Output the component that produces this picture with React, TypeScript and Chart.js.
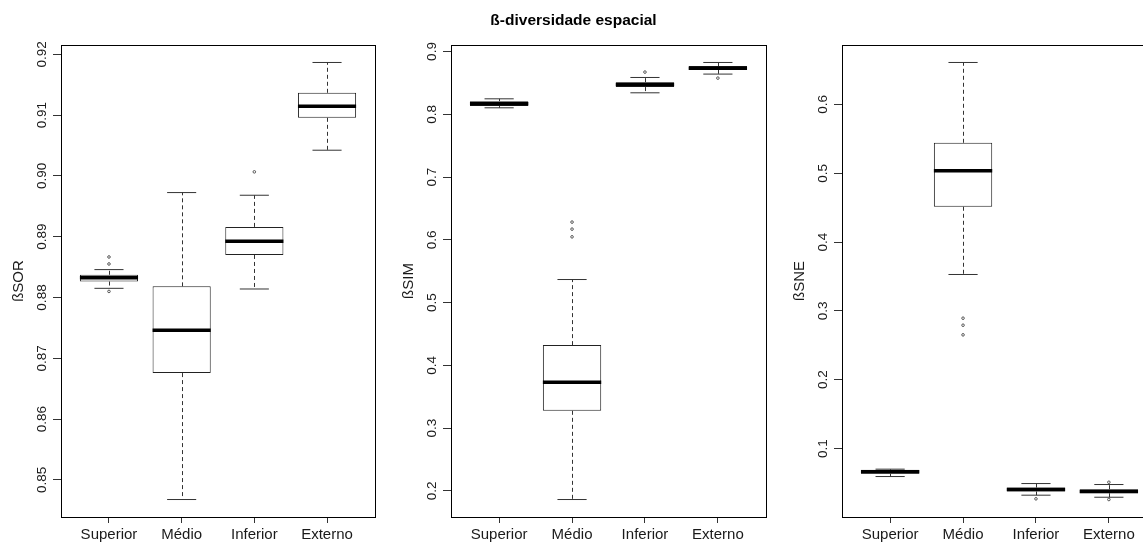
import React, { useEffect, useRef } from 'react';
import { Chart, registerables } from 'chart.js';

Chart.register(...registerables);

const categories = ['Superior', 'Médio', 'Inferior', 'Externo'];
const mainTitle = 'ß-diversidade espacial';

// βSOR
const sorQ1 = [0.88263, 0.86756, 0.887, 0.90957];
const sorMedian = [0.88326, 0.87459, 0.88925, 0.91149];
const sorQ3 = [0.88374, 0.88184, 0.89162, 0.91369];
const sorLow = [0.88151, 0.84675, 0.8814, 0.90424];
const sorHigh = [0.88459, 0.89727, 0.89683, 0.91868];
const sorOutGroup = [1, 1, 1, 3];
const sorOutValue = [0.88667, 0.88552, 0.881, 0.90068];

// βSIM
const simQ1 = [0.813, 0.3275, 0.8433, 0.8708];
const simMedian = [0.8167, 0.3732, 0.8474, 0.8735];
const simQ3 = [0.8209, 0.4322, 0.8512, 0.8767];
const simLow = [0.8103, 0.1862, 0.8342, 0.864];
const simHigh = [0.8246, 0.5367, 0.8586, 0.8825];
const simOutGroup = [2, 2, 2, 3, 4];
const simOutValue = [0.6282, 0.617, 0.6047, 0.8672, 0.8576];

// βSNE
const sneQ1 = [0.0632, 0.4513, 0.0375, 0.035];
const sneMedian = [0.0661, 0.5036, 0.0404, 0.0375];
const sneQ3 = [0.069, 0.5443, 0.0433, 0.0409];
const sneLow = [0.0593, 0.3529, 0.0322, 0.0292];
const sneHigh = [0.07, 0.661, 0.0491, 0.0477];
const sneOutGroup = [2, 2, 2, 3, 4, 4];
const sneOutValue = [0.2894, 0.2792, 0.2652, 0.0269, 0.051, 0.0259];

const FONT = '"Liberation Sans", Arial, Helvetica, sans-serif';

type Panel = {
  yTitle: string;
  q1: number[];
  median: number[];
  q3: number[];
  low: number[];
  high: number[];
  outGroup: number[];
  outValue: number[];
  step: number;
  decimals: number;
  left: number;
  width: number;
  axisWidth: number;
  padRight: number;
  title?: string;
};

const panels: Panel[] = [
  {
    yTitle: 'ßSOR', q1: sorQ1, median: sorMedian, q3: sorQ3, low: sorLow, high: sorHigh,
    outGroup: sorOutGroup, outValue: sorOutValue, step: 0.01, decimals: 2,
    left: 0, width: 381, axisWidth: 61, padRight: 6,
  },
  {
    yTitle: 'ßSIM', q1: simQ1, median: simMedian, q3: simQ3, low: simLow, high: simHigh,
    outGroup: simOutGroup, outValue: simOutValue, step: 0.1, decimals: 1,
    left: 381, width: 452, axisWidth: 70, padRight: 67, title: mainTitle,
  },
  {
    yTitle: 'ßSNE', q1: sneQ1, median: sneMedian, q3: sneQ3, low: sneLow, high: sneHigh,
    outGroup: sneOutGroup, outValue: sneOutValue, step: 0.1, decimals: 1,
    left: 780, width: 393, axisWidth: 62, padRight: 16,
  },
];

function makePlugin(p: Panel) {
  return {
    id: 'boxParts',
    beforeDatasetsDraw(chart: any) {
      const { ctx } = chart;
      const x = chart.scales.x;
      const y = chart.scales.y;
      ctx.save();
      ctx.strokeStyle = '#333';
      ctx.lineWidth = 1;
      categories.forEach((_c, i) => {
        const cx = Math.round(x.getPixelForValue(i + 1)) + 0.5;
        ctx.setLineDash([4, 3]);
        ctx.beginPath();
        ctx.moveTo(cx, y.getPixelForValue(p.q3[i]));
        ctx.lineTo(cx, y.getPixelForValue(p.high[i]));
        ctx.moveTo(cx, y.getPixelForValue(p.q1[i]));
        ctx.lineTo(cx, y.getPixelForValue(p.low[i]));
        ctx.stroke();
        ctx.setLineDash([]);
        const sl = x.getPixelForValue(i + 1 - 0.2);
        const sr = x.getPixelForValue(i + 1 + 0.2);
        ctx.beginPath();
        ctx.moveTo(sl, y.getPixelForValue(p.high[i]));
        ctx.lineTo(sr, y.getPixelForValue(p.high[i]));
        ctx.moveTo(sl, y.getPixelForValue(p.low[i]));
        ctx.lineTo(sr, y.getPixelForValue(p.low[i]));
        ctx.stroke();
      });
      ctx.restore();
    },
    afterDatasetsDraw(chart: any) {
      const { ctx } = chart;
      const x = chart.scales.x;
      const y = chart.scales.y;
      ctx.save();
      ctx.strokeStyle = '#000';
      ctx.lineWidth = 3.5;
      ctx.lineCap = 'butt';
      categories.forEach((_c, i) => {
        const my = y.getPixelForValue(p.median[i]);
        ctx.beginPath();
        ctx.moveTo(x.getPixelForValue(i + 1 - 0.4), my);
        ctx.lineTo(x.getPixelForValue(i + 1 + 0.4), my);
        ctx.stroke();
      });
      ctx.restore();
    },
    afterDraw(chart: any) {
      const { ctx, chartArea } = chart;
      const y = chart.scales.y;
      ctx.save();
      ctx.strokeStyle = '#000';
      ctx.lineWidth = 1;
      ctx.strokeRect(
        Math.round(chartArea.left) + 0.5,
        Math.round(chartArea.top) + 0.5,
        Math.round(chartArea.right - chartArea.left),
        Math.round(chartArea.bottom - chartArea.top)
      );
      ctx.fillStyle = '#1a1a1a';
      ctx.font = `13.5px ${FONT}`;
      ctx.textAlign = 'center';
      ctx.textBaseline = 'middle';
      y.ticks.forEach((t: any) => {
        const py = y.getPixelForValue(t.value);
        ctx.save();
        ctx.translate(chartArea.left - 19, py);
        ctx.rotate(-Math.PI / 2);
        ctx.fillText(Number(t.value).toFixed(p.decimals), 0, 0);
        ctx.restore();
      });
      ctx.font = `15px ${FONT}`;
      ctx.save();
      ctx.translate(chartArea.left - 42, (chartArea.top + chartArea.bottom) / 2);
      ctx.rotate(-Math.PI / 2);
      ctx.fillText(p.yTitle, 0, 0);
      ctx.restore();
      ctx.restore();
    },
  };
}

function makeConfig(p: Panel): any {
  const all = [...p.low, ...p.high, ...p.outValue];
  const lo = Math.min(...all);
  const hi = Math.max(...all);
  const ext = (hi - lo) * 0.04;
  const n = categories.length;
  return {
    type: 'bar',
    data: {
      datasets: [
        {
          type: 'bar',
          data: categories.map((_c, i) => ({ x: i + 1, y: [p.q1[i], p.q3[i]] })),
          backgroundColor: '#ffffff',
          borderColor: '#222',
          borderWidth: 1,
          borderSkipped: false,
          barPercentage: 0.8,
          categoryPercentage: 1,
          order: 2,
        },
        {
          type: 'scatter',
          data: p.outGroup.map((g, i) => ({ x: g, y: p.outValue[i] })),
          pointRadius: 1.3,
          pointBorderColor: '#555',
          pointBackgroundColor: 'rgba(0,0,0,0)',
          pointBorderWidth: 1,
          order: 1,
        },
      ],
    },
    options: {
      responsive: false,
      animation: false,
      devicePixelRatio: 1,
      layout: { padding: { top: p.title ? 0 : 45, right: p.padRight, left: 0, bottom: 0 } },
      plugins: {
        legend: { display: false },
        tooltip: { enabled: false },
        title: {
          display: !!p.title,
          text: p.title || '',
          color: '#000',
          font: { family: FONT, size: 15.5, weight: 'bold' },
          padding: { top: 11, bottom: 15.4 },
        },
      },
      scales: {
        x: {
          type: 'linear',
          offset: false,
          min: 0.5 - n * 0.04,
          max: n + 0.5 + n * 0.04,
          afterFit: (s: any) => { s.height = 25; },
          ticks: {
            stepSize: 1,
            includeBounds: false,
            autoSkip: false,
            maxRotation: 0,
            color: '#1a1a1a',
            padding: 2.5,
            font: { family: FONT, size: 15 },
            callback: (v: any) => categories[Number(v) - 1] ?? '',
          },
          grid: { display: true, offset: false, drawOnChartArea: false, drawTicks: true, tickLength: 6, color: '#333' },
          border: { display: false },
        },
        y: {
          type: 'linear',
          min: lo - ext,
          max: hi + ext,
          afterFit: (s: any) => { s.width = p.axisWidth; },
          ticks: { stepSize: p.step, includeBounds: false, display: false },
          grid: { display: true, drawOnChartArea: false, drawTicks: true, tickLength: 8, color: '#333' },
          border: { display: false },
        },
      },
    },
    plugins: [makePlugin(p)],
  };
}

function BoxPanel({ p }: { p: Panel }) {
  const ref = useRef<HTMLCanvasElement | null>(null);
  useEffect(() => {
    if (!ref.current) return;
    const chart = new Chart(ref.current, makeConfig(p));
    return () => chart.destroy();
  }, [p]);
  return (
    <canvas
      ref={ref}
      width={p.width}
      height={542}
      style={{ position: 'absolute', left: p.left, top: 0, width: p.width, height: 542 }}
    />
  );
}

export default function App() {
  return (
    <div
      style={{
        position: 'fixed',
        left: 0,
        top: 0,
        width: 1143,
        height: 542,
        overflow: 'hidden',
        background: '#fff',
      }}
    >
      {panels.map((p) => (
        <BoxPanel key={p.yTitle} p={p} />
      ))}
    </div>
  );
}
